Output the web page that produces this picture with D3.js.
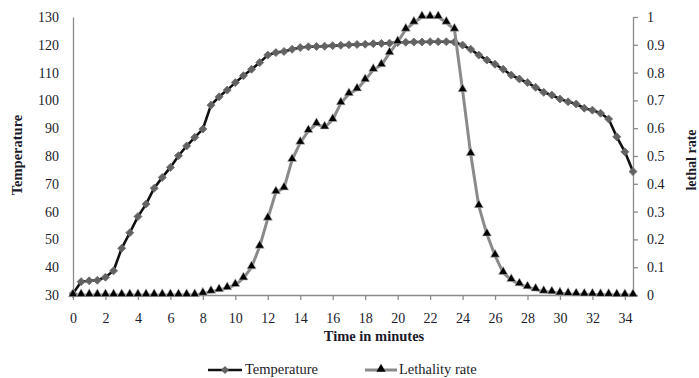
<!DOCTYPE html>
<html>
<head>
<meta charset="utf-8">
<script src="https://cdn.jsdelivr.net/npm/d3@7"></script>
<style>
  body { margin: 0; background: #fff; }
  text { font-family: "Liberation Serif", "Times New Roman", serif; fill: #1b1b2a; }
</style>
</head>
<body>
<div id="container"></div>
<script>
// time in minutes, one reading every half minute
let timeMin = [0, 0.5, 1, 1.5, 2, 2.5, 3, 3.5, 4, 4.5, 5, 5.5, 6, 6.5, 7, 7.5, 8, 8.5, 9, 9.5,
  10, 10.5, 11, 11.5, 12, 12.5, 13, 13.5, 14, 14.5, 15, 15.5, 16, 16.5, 17, 17.5, 18, 18.5, 19, 19.5,
  20, 20.5, 21, 21.5, 22, 22.5, 23, 23.5, 24, 24.5, 25, 25.5, 26, 26.5, 27, 27.5, 28, 28.5, 29, 29.5,
  30, 30.5, 31, 31.5, 32, 32.5, 33, 33.5, 34, 34.5];

let temperature = [30.5, 34.8, 35.1, 35.3, 36.4, 38.7, 46.8, 52.4, 58.2, 62.7,
  68.4, 72.3, 75.9, 80.1, 83.6, 86.7, 89.7, 98.3, 101.3, 103.7,
  106.4, 108.9, 111.2, 113.6, 116.3, 117.2, 117.6, 118.4, 119.0, 119.3,
  119.4, 119.5, 119.7, 119.8, 120.0, 120.1, 120.2, 120.4, 120.5, 120.6,
  120.8, 120.9, 121.0, 121.0, 121.1, 121.1, 121.1, 121.0, 119.9, 118.4,
  116.3, 114.5, 113.0, 111.2, 109.1, 107.7, 106.4, 104.7, 102.9, 101.9,
  100.5, 99.5, 98.7, 97.2, 96.5, 95.4, 93.3, 86.9, 81.5, 74.4];

let lethality = [0, 0, 0, 0, 0, 0, 0, 0, 0, 0,
  0, 0, 0, 0, 0, 0, 0.005, 0.012, 0.018, 0.025,
  0.036, 0.06, 0.10, 0.174, 0.275, 0.37, 0.384, 0.486, 0.548, 0.59,
  0.615, 0.603, 0.63, 0.69, 0.723, 0.74, 0.773, 0.81, 0.827, 0.87,
  0.91, 0.955, 0.98, 1.0, 1.0, 1.0, 0.98, 0.955, 0.737, 0.507,
  0.32, 0.218, 0.142, 0.08, 0.054, 0.039, 0.028, 0.02, 0.012, 0.01,
  0.006, 0.004, 0.003, 0.002, 0.002, 0.001, 0.001, 0, 0, 0];

let xTicks = [0, 2, 4, 6, 8, 10, 12, 14, 16, 18, 20, 22, 24, 26, 28, 30, 32, 34];
let leftTicks = [30, 40, 50, 60, 70, 80, 90, 100, 110, 120, 130];
let rightTicks = [0, 0.1, 0.2, 0.3, 0.4, 0.5, 0.6, 0.7, 0.8, 0.9, 1];

let margin = {top: 17, right: 66, bottom: 83, left: 73},
    width = 699 - margin.left - margin.right,
    height = 378 - margin.top - margin.bottom;

let svg = d3.select('#container').append("svg")
    .attr("width", 699)
    .attr("height", 378);

let viz = svg.append("g")
    .attr("transform", "translate(" + margin.left + "," + margin.top + ")");

let xScale = d3.scaleLinear().domain([0, 34.5]).range([0, width]);
let yLeft = d3.scaleLinear().domain([30, 130]).range([height, 0]);
let yRight = d3.scaleLinear().domain([0, 1]).range([height, 0]);

let axisColor = "#8c8c8c";

let xAxis = viz.append("g")
    .attr("transform", "translate(0," + height + ")")
    .call(d3.axisBottom(xScale).tickValues(xTicks).tickSizeInner(5).tickSizeOuter(0).tickPadding(13).tickFormat(d3.format("d")));

let leftAxis = viz.append("g")
    .call(d3.axisLeft(yLeft).tickValues(leftTicks).tickSizeInner(0).tickSizeOuter(0).tickPadding(14));

let rightAxis = viz.append("g")
    .attr("transform", "translate(" + width + ",0)")
    .call(d3.axisRight(yRight).tickValues(rightTicks).tickSizeInner(5).tickSizeOuter(0).tickPadding(9).tickFormat(d => d));

[xAxis, leftAxis, rightAxis].forEach(function(ax) {
  ax.select(".domain").attr("stroke", axisColor).attr("stroke-width", 1.3);
  ax.selectAll(".tick line").attr("stroke", axisColor).attr("stroke-width", 1.3);
  ax.selectAll("text")
    .style("font-family", '"Liberation Serif", serif')
    .style("font-size", "14px")
    .attr("fill", "#1b1b2a");
});

// series
let tempData = timeMin.map((t, i) => ({t: t, v: temperature[i]}));
let lethData = timeMin.map((t, i) => ({t: t, v: lethality[i]}));

let tempLine = d3.line().x(d => xScale(d.t)).y(d => yLeft(d.v));
let lethLine = d3.line().x(d => xScale(d.t)).y(d => yRight(d.v));

let diamond = d3.symbol().type(d3.symbolSquare).size(32);
let triangle = d3.symbol().type(d3.symbolTriangle).size(36);

viz.append("path")
    .datum(tempData)
    .attr("fill", "none")
    .attr("stroke", "#111")
    .attr("stroke-width", 2.6)
    .attr("d", tempLine);

viz.selectAll(".tempPt").data(tempData)
  .enter().append("path")
    .attr("class", "tempPt")
    .attr("transform", d => "translate(" + xScale(d.t) + "," + yLeft(d.v) + ") rotate(45)")
    .attr("d", diamond)
    .attr("fill", "#626262")
    .attr("stroke", "#6e6e6e")
    .attr("stroke-width", 0.8);

viz.append("path")
    .datum(lethData)
    .attr("fill", "none")
    .attr("stroke", "#8a8a8a")
    .attr("stroke-width", 3)
    .attr("d", lethLine);

viz.selectAll(".lethPt").data(lethData)
  .enter().append("path")
    .attr("class", "lethPt")
    .attr("transform", d => "translate(" + xScale(d.t) + "," + (yRight(d.v) - 1) + ")")
    .attr("d", triangle)
    .attr("fill", "#000")
    .attr("stroke", "#bdbdbd")
    .attr("stroke-width", 0.6);

// axis titles
svg.append("text")
    .attr("transform", "translate(22,155) rotate(-90)")
    .attr("text-anchor", "middle")
    .style("font-size", "14.5px")
    .style("font-weight", "bold")
    .text("Temperature");

svg.append("text")
    .attr("transform", "translate(696,160) rotate(-90)")
    .attr("text-anchor", "middle")
    .style("font-size", "14px")
    .style("font-weight", "bold")
    .text("lethal  rate");

svg.append("text")
    .attr("x", 374)
    .attr("y", 341)
    .attr("text-anchor", "middle")
    .style("font-size", "14.5px")
    .style("font-weight", "bold")
    .text("Time in minutes");

// legend
let legendY = 370;
let legend = svg.append("g");

legend.append("line")
    .attr("x1", 208).attr("x2", 242).attr("y1", legendY).attr("y2", legendY)
    .attr("stroke", "#111").attr("stroke-width", 2.6);
legend.append("path")
    .attr("transform", "translate(225," + legendY + ") rotate(45)")
    .attr("d", diamond)
    .attr("fill", "#626262");
legend.append("text")
    .attr("x", 245).attr("y", legendY + 4)
    .style("font-size", "14.5px")
    .text("Temperature");

legend.append("line")
    .attr("x1", 365).attr("x2", 397).attr("y1", legendY).attr("y2", legendY)
    .attr("stroke", "#8a8a8a").attr("stroke-width", 3);
legend.append("path")
    .attr("transform", "translate(381," + (legendY - 1) + ")")
    .attr("d", triangle)
    .attr("fill", "#000");
legend.append("text")
    .attr("x", 399).attr("y", legendY + 4)
    .style("font-size", "14.5px")
    .text("Lethality rate");
</script>
</body>
</html>
